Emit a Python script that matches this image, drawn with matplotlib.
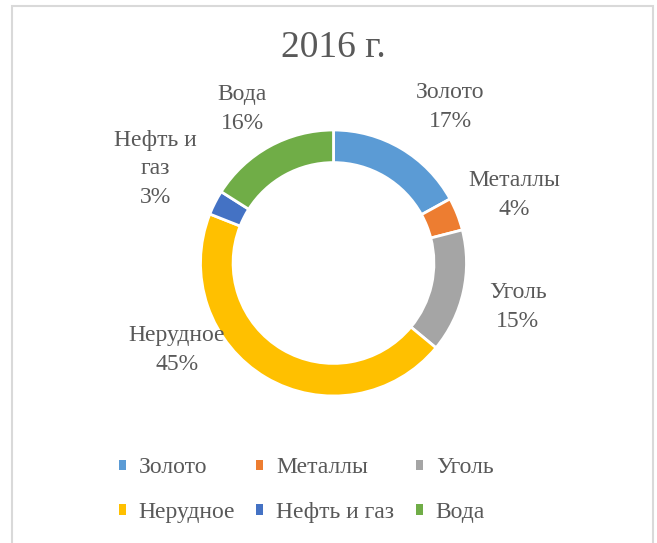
import matplotlib
matplotlib.use("Agg")
import matplotlib.pyplot as plt
from matplotlib.patches import Patch, Rectangle


categories = ["Золото", "Металлы", "Уголь", "Нерудное", "Нефть и газ", "Вода"]
label_texts = ["Золото", "Металлы", "Уголь", "Нерудное", "Нефть и\nгаз", "Вода"]
shares = [17, 4, 15, 45, 3, 16]
colors = ["#5B9BD5", "#ED7D31", "#A5A5A5", "#FFC000", "#4472C4", "#70AD47"]
title = "2016 г."

# положения подписей (в радиусах кольца), как в Excel «по ширине»
label_xy = [
    (0.876, 1.173),
    (1.357, 0.511),
    (1.387, -0.331),
    (-1.177, -0.654),
    (-1.342, 0.707),
    (-0.688, 1.158),
]

TEXT_COLOR = "#595959"
FONT = ["Liberation Serif", "DejaVu Serif"]


def main():
    plt.rcParams["font.family"] = FONT

    fig = plt.figure(figsize=(6.57, 5.43), dpi=100)
    W, H = 657, 543

    # рамка области диаграммы
    fig.patches.append(
        Rectangle(
            (12 / W, -0.02),
            641 / W,
            (543 - 6) / H + 0.02,
            transform=fig.transFigure,
            fill=False,
            edgecolor="#d9d9d9",
            linewidth=1.5,
        )
    )

    cx, cy, r = 333.5, 263, 133
    ax = fig.add_axes([(cx - r) / W, (H - cy - r) / H, 2 * r / W, 2 * r / H])
    ax.pie(
        shares,
        colors=colors,
        startangle=90,
        counterclock=False,
        radius=1.0,
        wedgeprops={"width": 0.245, "edgecolor": "white", "linewidth": 2},
    )
    ax.set_xlim(-1, 1)
    ax.set_ylim(-1, 1)
    ax.set_aspect("equal")
    ax.axis("off")

    for text, value, (x, y) in zip(label_texts, shares, label_xy):
        ax.text(
            x,
            y,
            f"{text}\n{value}%",
            ha="center",
            va="center",
            fontsize=17,
            color=TEXT_COLOR,
            linespacing=1.45,
        )

    fig.text(
        cx / W,
        1 - 48 / H,
        title,
        ha="center",
        va="center",
        fontsize=27,
        color=TEXT_COLOR,
    )

    # Excel заполняет легенду по строкам, matplotlib — по столбцам
    order = [0, 3, 1, 4, 2, 5]
    handles = [Patch(facecolor=colors[i], edgecolor="none") for i in order]
    labels = [categories[i] for i in order]
    fig.legend(
        handles,
        labels,
        loc="center",
        bbox_to_anchor=(306 / W, 1 - 490 / H),
        ncol=3,
        frameon=False,
        fontsize=17,
        labelcolor=TEXT_COLOR,
        handlelength=0.3,
        handleheight=0.3,
        handletextpad=0.55,
        labelspacing=1.0,
        columnspacing=0.9,
    )

    fig.savefig("out.png", dpi=100, facecolor="white")


if __name__ == "__main__":
    main()
